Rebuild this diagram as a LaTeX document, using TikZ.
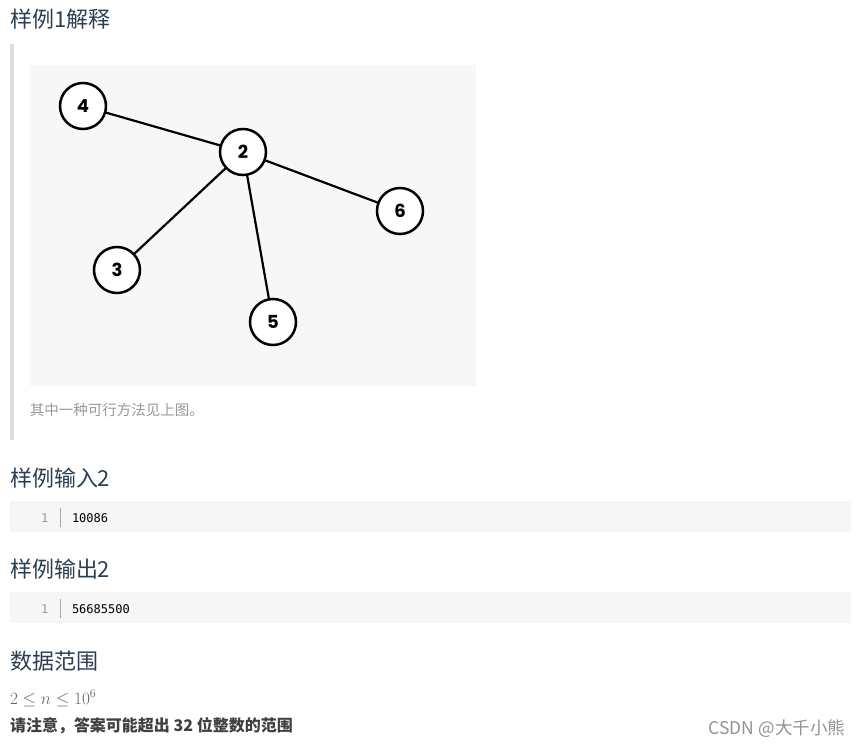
\documentclass[tikz,border=0pt]{standalone}
\usepackage{fontspec}
\setmainfont{Noto Sans CJK SC}
\newfontfamily\cjk{Noto Sans CJK SC}
\newfontfamily\nodefont{Poppins}[BoldFont={Poppins Bold}]
\newfontfamily\codefont{DejaVu Sans Mono}
\newfontfamily\wmfont{Noto Sans CJK SC}
\begin{document}
\begin{tikzpicture}[x=1pt,y=-1pt,
  every node/.style={inner sep=0pt,outer sep=0pt},
  heading/.style={anchor=base west,font=\cjk\fontsize{22}{26}\selectfont,text=headc},
  vtx/.style={circle,draw=black,line width=2.5pt,fill=white,minimum size=46pt,font=\nodefont\bfseries\fontsize{18}{20}\selectfont},
  edge/.style={line width=2.2pt,black},
  codetxt/.style={anchor=base west,font=\codefont\fontsize{12}{14}\selectfont,text=black},
  linenum/.style={anchor=base west,font=\codefont\fontsize{12}{14}\selectfont,text=gray!80}
]
\definecolor{headc}{RGB}{44,62,80}
\definecolor{codebg}{RGB}{246,246,246}
\definecolor{figbg}{RGB}{247,247,247}
\definecolor{barc}{RGB}{221,221,221}
\definecolor{capc}{RGB}{153,153,153}
\definecolor{notec}{RGB}{64,64,64}
\useasboundingbox[fill=white] (0,0) rectangle (860,746);

\node[heading] (h1) at (10,28) {样例1解释};
\fill[barc] (10,44) rectangle (14,440);
\fill[figbg] (30,65) rectangle (476,386);

\node[vtx] (n4) at (83,106) {4};
\node[vtx] (n2) at (243,152) {2};
\node[vtx] (n6) at (400,211) {6};
\node[vtx] (n3) at (117,270) {3};
\node[vtx] (n5) at (273,322) {5};
\draw[edge] (n4) -- (n2);
\draw[edge] (n2) -- (n6);
\draw[edge] (n2) -- (n3);
\draw[edge] (n2) -- (n5);

\node[anchor=base west,font=\cjk\fontsize{14.5}{16}\selectfont,text=capc] (cap) at (30,415) {其中一种可行方法见上图。};

\node[heading] (h2) at (10,486) {样例输入2};
\fill[codebg] (10,501) rectangle (851,532);
\node[linenum] (l1) at (41,522) {1};
\draw[gray!70,line width=1pt] (60,508) -- (60,527);
\node[codetxt] (c1) at (72,522) {10086};

\node[heading] (h3) at (10,577) {样例输出2};
\fill[codebg] (10,592) rectangle (851,623);
\node[linenum] (l2) at (41,613) {1};
\draw[gray!70,line width=1pt] (60,599) -- (60,618);
\node[codetxt] (c2) at (72,613) {56685500};

\node[heading] (h4) at (10,669) {数据范围};
\node[anchor=base west,font=\fontsize{16.5}{18}\selectfont,text=notec!80] (m) at (10,704) {$2\le n\le 10^6$};
\node[anchor=base west,font=\cjk\bfseries\fontsize{16}{18}\selectfont,text=notec] (note) at (10,731) {请注意，答案可能超出 32 位整数的范围};
\node[anchor=base east,font=\wmfont\fontsize{17.5}{20}\selectfont,text=gray!85] (wm) at (845,734) {CSDN @大千小熊};
\end{tikzpicture}
\end{document}
